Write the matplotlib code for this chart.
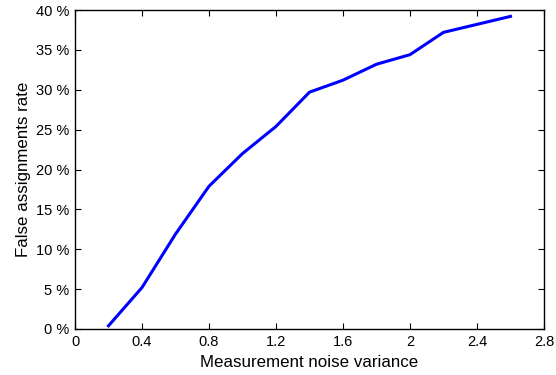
import matplotlib
matplotlib.use("Agg")
import matplotlib.pyplot as plt
from matplotlib.ticker import FuncFormatter

plt.rcParams['font.family'] = ['Liberation Sans', 'DejaVu Sans']

noise_variance = [0.2, 0.4, 0.6, 0.8, 1.0, 1.2, 1.4, 1.6, 1.8, 2.0, 2.2, 2.4, 2.6]
false_rate = [0.4, 5.2, 11.9, 17.9, 22.0, 25.4, 29.7, 31.2, 33.2, 34.4, 37.2, 38.2, 39.2]
x_ticks = [0, 0.4, 0.8, 1.2, 1.6, 2, 2.4, 2.8]
y_ticks = [0, 5, 10, 15, 20, 25, 30, 35, 40]

fig = plt.figure(figsize=(5.56, 3.75), dpi=100)
ax = fig.add_axes([0.1349, 0.1227, 0.8435, 0.8506])
ax.plot(noise_variance, false_rate, color='#0000ff', linewidth=2.2)
ax.set_xlim(0, 2.8)
ax.set_ylim(0, 40)
ax.set_xticks(x_ticks)
ax.set_xticklabels([f"{t:g}" for t in x_ticks])
ax.set_yticks(y_ticks)
ax.yaxis.set_major_formatter(FuncFormatter(lambda v, p: f"{v:g} %"))
ax.tick_params(direction='in', top=True, right=True, labelsize=10.5, length=4, width=0.8, pad=4)
for s in ax.spines.values():
    s.set_linewidth(1.0)
ax.set_xlabel("Measurement noise variance", fontsize=12.2, labelpad=5)
ax.set_ylabel("False assignments rate", fontsize=12.2, labelpad=4)
fig.savefig("out.png", dpi=100)
